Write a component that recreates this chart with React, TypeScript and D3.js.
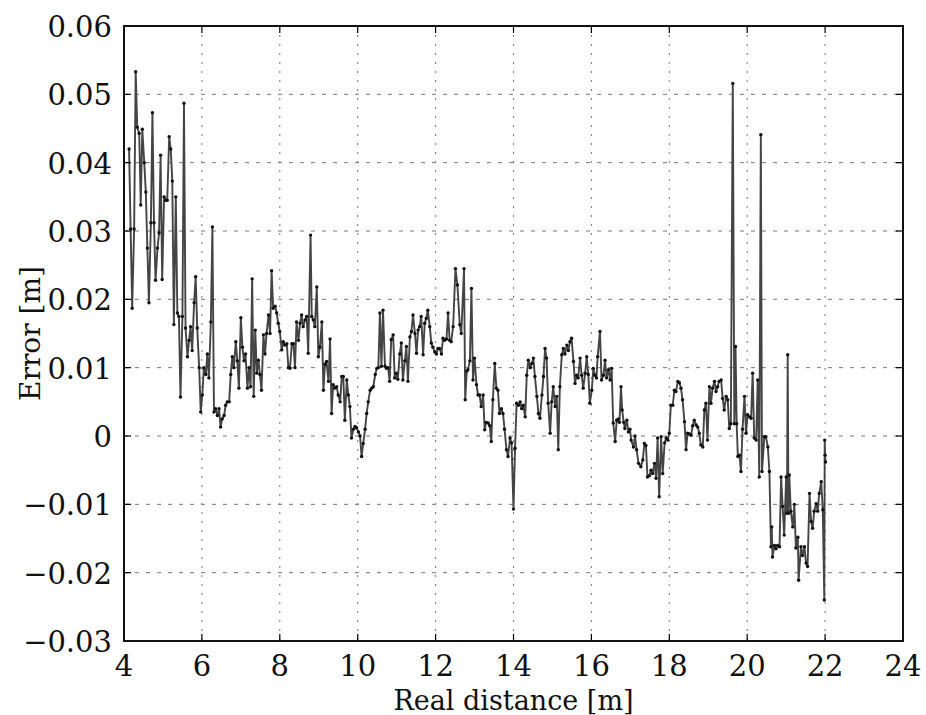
import * as d3 from "d3";
import React from "react";

// [real distance (m), error (m)]
const measurements: [number, number][] = [
  [4.13, 0.042], [4.17, 0.0303], [4.21, 0.0187], [4.26, 0.0303], [4.30, 0.0533], [4.34, 0.0452],
  [4.39, 0.0443], [4.43, 0.0338], [4.47, 0.0449], [4.52, 0.040], [4.56, 0.0357], [4.60, 0.0275],
  [4.64, 0.0195], [4.69, 0.0312], [4.73, 0.0473], [4.77, 0.0312], [4.81, 0.0228], [4.86, 0.0275],
  [4.90, 0.0297], [4.94, 0.0411], [4.98, 0.0229], [5.03, 0.035], [5.07, 0.0345], [5.11, 0.0345],
  [5.16, 0.0438], [5.20, 0.042], [5.24, 0.0373], [5.28, 0.0163], [5.33, 0.035], [5.37, 0.018],
  [5.41, 0.0175], [5.45, 0.0057], [5.50, 0.0175], [5.54, 0.0487], [5.58, 0.0158], [5.63, 0.0116],
  [5.67, 0.014], [5.71, 0.016], [5.75, 0.0125], [5.80, 0.0195], [5.84, 0.0233], [5.88, 0.0158],
  [5.93, 0.010], [5.97, 0.0035], [6.01, 0.006], [6.05, 0.010], [6.10, 0.009], [6.14, 0.012],
  [6.18, 0.0085], [6.23, 0.0167], [6.27, 0.0306], [6.31, 0.0035], [6.35, 0.004], [6.40, 0.003],
  [6.44, 0.004], [6.48, 0.0013], [6.52, 0.0025], [6.57, 0.003], [6.61, 0.0045], [6.65, 0.005],
  [6.70, 0.005], [6.74, 0.009], [6.78, 0.0116], [6.82, 0.010], [6.87, 0.0138], [6.91, 0.011],
  [6.95, 0.007], [7.00, 0.0173], [7.04, 0.013], [7.08, 0.011], [7.12, 0.012], [7.17, 0.007],
  [7.21, 0.010], [7.25, 0.0072], [7.29, 0.023],
  [7.33, 0.0058], [7.37, 0.0155], [7.41, 0.0092], [7.45, 0.0111], [7.49, 0.009], [7.53, 0.0067],
  [7.58, 0.0148], [7.62, 0.012], [7.66, 0.015], [7.71, 0.0177], [7.75, 0.015], [7.79, 0.0242],
  [7.83, 0.0187], [7.88, 0.019], [7.92, 0.018], [7.96, 0.0165], [8.00, 0.0153], [8.05, 0.0126],
  [8.09, 0.0138], [8.13, 0.0133], [8.18, 0.0135], [8.22, 0.010], [8.26, 0.0099], [8.31, 0.0135],
  [8.35, 0.0135], [8.39, 0.010], [8.43, 0.0167], [8.48, 0.014], [8.52, 0.0165], [8.56, 0.0177],
  [8.60, 0.016], [8.65, 0.017], [8.69, 0.0175], [8.73, 0.0121], [8.79, 0.0294], [8.82, 0.0175],
  [8.86, 0.017], [8.90, 0.016], [8.95, 0.0218], [8.99, 0.0116], [9.03, 0.013], [9.08, 0.0167],
  [9.12, 0.0067], [9.16, 0.0105], [9.20, 0.0109], [9.25, 0.008], [9.29, 0.0142], [9.33, 0.0033],
  [9.37, 0.0075], [9.41, 0.007], [9.46, 0.0072], [9.50, 0.006], [9.55, 0.005], [9.59, 0.0087],
  [9.63, 0.0087], [9.67, 0.0023], [9.72, 0.0082], [9.76, 0.006], [9.80, 0.0043], [9.84, -0.0003],
  [9.89, 0.001], [9.93, 0.0014], [9.97, 0.0012], [10.02, 0.0006], [10.06, 0.0], [10.10, -0.003],
  [10.14, -0.0011], [10.19, 0.001], [10.23, 0.0033], [10.27, 0.005], [10.32, 0.0067], [10.36, 0.007],
  [10.40, 0.0072], [10.45, 0.009], [10.49, 0.0099], [10.53, 0.010], [10.57, 0.018],
  [10.61, 0.0102], [10.65, 0.0184], [10.70, 0.0102], [10.74, 0.0099], [10.78, 0.010], [10.82, 0.008],
  [10.86, 0.0141], [10.91, 0.0148], [10.95, 0.0085], [10.99, 0.0092], [11.03, 0.0083], [11.08, 0.012],
  [11.12, 0.0136], [11.16, 0.0082], [11.21, 0.011], [11.25, 0.0131], [11.29, 0.008], [11.34, 0.0145],
  [11.38, 0.0153], [11.42, 0.0177], [11.47, 0.015], [11.51, 0.0121], [11.55, 0.0155], [11.59, 0.016],
  [11.63, 0.0175], [11.68, 0.0119], [11.72, 0.0165], [11.76, 0.0172], [11.80, 0.0184], [11.85, 0.016],
  [11.89, 0.0136], [11.93, 0.013], [11.98, 0.0123], [12.02, 0.012], [12.06, 0.0128], [12.10, 0.0128],
  [12.15, 0.012], [12.19, 0.0143], [12.23, 0.014], [12.28, 0.0142], [12.32, 0.018], [12.36, 0.014],
  [12.40, 0.0138], [12.45, 0.016], [12.51, 0.0245], [12.56, 0.0221], [12.62, 0.0163], [12.66, 0.015],
  [12.73, 0.0245], [12.76, 0.0053], [12.80, 0.0095], [12.83, 0.0097], [12.88, 0.011], [12.92, 0.0216],
  [12.96, 0.0082], [13.00, 0.0114], [13.05, 0.0075], [13.09, 0.006], [13.13, 0.006], [13.17, 0.0043],
  [13.22, 0.006], [13.26, 0.0009], [13.30, 0.002], [13.35, 0.0019], [13.39, 0.0015], [13.43, -0.0008],
  [13.47, 0.0053], [13.52, 0.0106], [13.56, 0.007], [13.60, 0.0067], [13.64, 0.0033], [13.69, 0.004],
  [13.73, 0.0033], [13.77, 0.001], [13.82, -0.002], [13.86, -0.003],
  [13.91, -0.0003], [13.95, -0.001], [14.00, -0.0107], [14.04, -0.0018], [14.08, 0.0048], [14.13, 0.0045],
  [14.17, 0.005], [14.21, 0.004], [14.25, 0.0045], [14.30, 0.0028], [14.34, 0.0089], [14.38, 0.0111],
  [14.43, 0.010], [14.47, 0.0106], [14.51, 0.0114], [14.55, 0.0087], [14.60, 0.0058], [14.64, 0.0033],
  [14.68, 0.0026], [14.73, 0.006], [14.77, 0.0087], [14.81, 0.0128], [14.85, 0.0114], [14.89, 0.0048],
  [14.94, 0.0004], [14.98, 0.005], [15.02, 0.0072], [15.07, 0.0043], [15.11, 0.0058], [15.15, -0.002],
  [15.19, 0.0072], [15.24, 0.0119], [15.28, 0.0128], [15.32, 0.012], [15.37, 0.0133], [15.41, 0.0125],
  [15.45, 0.0138], [15.49, 0.0143], [15.54, 0.0109], [15.58, 0.0077], [15.62, 0.0089], [15.66, 0.0085],
  [15.71, 0.0114], [15.75, 0.0089], [15.79, 0.007], [15.84, 0.0092], [15.88, 0.0116], [15.92, 0.009],
  [15.96, 0.0048], [16.01, 0.0067], [16.05, 0.0099], [16.09, 0.0089], [16.13, 0.0085], [16.16, 0.0116],
  [16.22, 0.0153], [16.26, 0.0082], [16.31, 0.0089], [16.35, 0.0111], [16.39, 0.0085], [16.44, 0.0097],
  [16.48, 0.0082], [16.52, 0.0099], [16.56, 0.0019], [16.61, -0.0008], [16.65, 0.0023], [16.69, 0.0025],
  [16.72, 0.002], [16.76, 0.0072], [16.79, 0.0038], [16.83, 0.002], [16.86, 0.0011], [16.91, 0.0023],
  [16.95, 0.0006], [16.99, 0.001], [17.02, -0.0006], [17.08, -0.0016], [17.12, 0.0], [17.16, -0.002],
  [17.21, -0.004],
  [17.27, -0.0045], [17.32, -0.0035], [17.36, -0.0011], [17.40, -0.0014], [17.44, -0.006], [17.49, -0.0058],
  [17.53, -0.005], [17.57, -0.0055], [17.62, -0.004], [17.66, -0.0062], [17.70, -0.0003], [17.74, -0.0089],
  [17.79, -0.0001], [17.83, -0.0055], [17.88, -0.001], [17.92, -0.0003], [17.96, -0.0006], [18.00, 0.0004],
  [18.04, 0.0045], [18.09, 0.0045], [18.13, 0.0067], [18.17, 0.0065], [18.22, 0.008], [18.26, 0.0078],
  [18.30, 0.007], [18.34, 0.0053], [18.39, 0.0021], [18.43, -0.002], [18.47, 0.0004], [18.52, 0.0003],
  [18.56, 0.0001], [18.60, 0.0015], [18.64, 0.0023], [18.69, 0.0016], [18.73, 0.0013], [18.77, 0.0004],
  [18.81, -0.0013], [18.86, -0.0016], [18.90, 0.0038], [18.94, 0.0048], [18.98, -0.0006], [19.03, 0.0072],
  [19.07, 0.0048], [19.11, 0.007], [19.16, 0.008], [19.20, 0.0065], [19.24, 0.0072], [19.28, 0.008],
  [19.33, 0.0082], [19.37, 0.0055], [19.41, 0.0038], [19.46, 0.0058], [19.50, 0.0053], [19.54, 0.0011],
  [19.58, 0.0018], [19.63, 0.0516], [19.67, 0.0018], [19.70, 0.0131], [19.73, 0.0018], [19.76, -0.003],
  [19.80, -0.0028], [19.84, -0.0052], [19.88, 0.001], [19.93, 0.0058], [19.97, 0.0004], [20.01, 0.0031],
  [20.06, 0.0028], [20.10, 0.0026], [20.14, 0.0092], [20.18, -0.0003], [20.23, -0.0006], [20.27, 0.0082],
  [20.31, -0.006], [20.35, 0.0441], [20.38, -0.0052], [20.44, -0.0001], [20.48, -0.0001], [20.53, -0.0016],
  [20.57, -0.0052], [20.61, -0.0162], [20.63, -0.0133], [20.65, -0.0177], [20.70, -0.016], [20.74, -0.0165],
  [20.78, -0.016], [20.83, -0.0162], [20.87, -0.006], [20.91, -0.0103], [20.95, -0.0145], [21.00, -0.006],
  [21.02, -0.0113], [21.04, 0.0119], [21.06, -0.0113], [21.08, -0.0057], [21.12, -0.011], [21.17, -0.0133],
  [21.21, -0.010], [21.25, -0.0164], [21.30, -0.0148], [21.32, -0.0211], [21.38, -0.0162], [21.42, -0.0175],
  [21.47, -0.0162], [21.51, -0.0186], [21.55, -0.0191], [21.60, -0.0084], [21.64, -0.0125], [21.68, -0.0135],
  [21.72, -0.011], [21.77, -0.0099], [21.81, -0.011], [21.85, -0.0084], [21.90, -0.0067], [21.94, -0.0108],
  [21.98, -0.024], [21.99, -0.0006], [22.00, -0.0028], [22.01, -0.0038],
];

const xTicks = [4, 6, 8, 10, 12, 14, 16, 18, 20, 22, 24];
const yTicks = [-0.03, -0.02, -0.01, 0, 0.01, 0.02, 0.03, 0.04, 0.05, 0.06];
const xLabel = "Real distance [m]";
const yLabel = "Error [m]";

const W = 926, H = 715;
const m = { l: 124, r: 903, t: 26, b: 641 };
const font = "'DejaVu Serif', serif";

const fmtY = (v: number) => (v === 0 ? "0" : d3.format(".2f")(v));

const App: React.FC = () => {
  const x = d3.scaleLinear([4, 24], [m.l, m.r]);
  const y = d3.scaleLinear([-0.03, 0.06], [m.b, m.t]);
  const line = d3.line<[number, number]>().x(d => x(d[0])).y(d => y(d[1]));
  const tick = 7;

  return (
    <svg width={W} height={H} style={{ position: "absolute", left: 0, top: 0, background: "#fff" }}>
      {/* grid */}
      {xTicks.slice(1, -1).map(t => (
        <line key={"gx" + t} x1={x(t)} x2={x(t)} y1={m.t} y2={m.b} stroke="#777" strokeWidth={1} strokeDasharray="2,7" />
      ))}
      {yTicks.slice(1, -1).map(t => (
        <line key={"gy" + t} x1={m.l} x2={m.r} y1={y(t)} y2={y(t)} stroke="#777" strokeWidth={1} strokeDasharray="4,7" />
      ))}

      {/* data */}
      <path d={line(measurements) ?? ""} fill="none" stroke="#444" strokeWidth={1.9} strokeLinejoin="round" />
      {measurements.map((d, i) => (
        <circle key={"p" + i} cx={x(d[0])} cy={y(d[1])} r={1.7} fill="#111" />
      ))}

      {/* ticks */}
      {xTicks.map(t => (
        <g key={"tx" + t}>
          <line x1={x(t)} x2={x(t)} y1={m.b} y2={m.b - tick} stroke="#000" strokeWidth={1.2} />
          <line x1={x(t)} x2={x(t)} y1={m.t} y2={m.t + tick} stroke="#000" strokeWidth={1.2} />
          <text x={x(t)} y={m.b + 35} textAnchor="middle" fontFamily={font} fontSize={29} fill="#111">{t}</text>
        </g>
      ))}
      {yTicks.map(t => (
        <g key={"ty" + t}>
          <line x1={m.l} x2={m.l + tick} y1={y(t)} y2={y(t)} stroke="#000" strokeWidth={1.2} />
          <line x1={m.r} x2={m.r - tick} y1={y(t)} y2={y(t)} stroke="#000" strokeWidth={1.2} />
          <text x={m.l - 12} y={y(t) + 11} textAnchor="end" fontFamily={font} fontSize={29} fill="#111">{fmtY(t)}</text>
        </g>
      ))}

      {/* frame */}
      <rect x={m.l} y={m.t} width={m.r - m.l} height={m.b - m.t} fill="none" stroke="#111" strokeWidth={2} />

      <text x={(m.l + m.r) / 2} y={H - 5} textAnchor="middle" fontFamily={font} fontSize={27} fill="#111">{xLabel}</text>
      <text transform={`translate(40, ${(m.t + m.b) / 2}) rotate(-90)`} textAnchor="middle" fontFamily={font} fontSize={28} fill="#111">{yLabel}</text>
    </svg>
  );
};

export default App;
